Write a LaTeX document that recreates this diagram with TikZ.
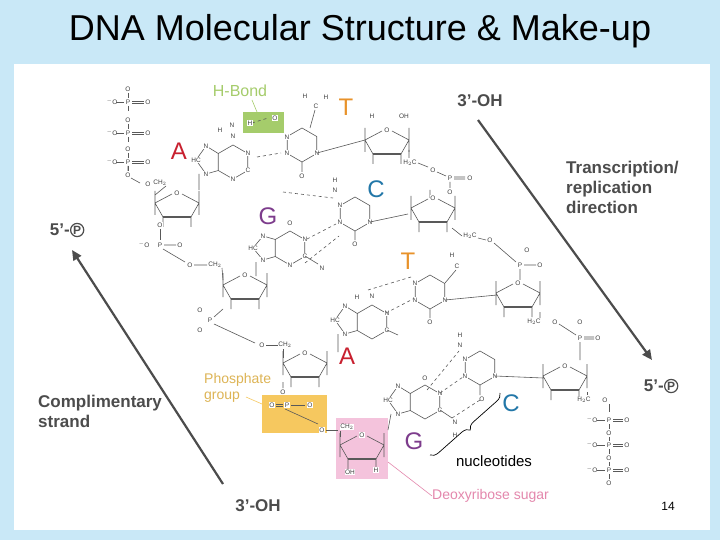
\documentclass[tikz,border=0pt]{standalone}
\usepackage{fontspec}
\setmainfont{Liberation Sans}
\usetikzlibrary{decorations.pathreplacing,arrows.meta}
\definecolor{bgblue}{HTML}{C9E8F7}
\definecolor{hgreen}{HTML}{A5CC6B}
\definecolor{porange}{HTML}{F6C85F}
\definecolor{spink}{HTML}{F4C3DC}
\definecolor{lred}{HTML}{C8202F}
\definecolor{lpurple}{HTML}{7D3C8C}
\definecolor{lblue}{HTML}{2277A8}
\definecolor{lorange}{HTML}{E8922A}
\tikzset{
 chem/.style={draw=black!65,line width=0.6pt},
 hb/.style={draw=black!65,dashed,line width=0.6pt},
 atm/.style={font=\fontsize{6.5}{6.5}\selectfont,text=black!75,inner sep=0.5pt,fill=white},
 base/.style={font=\fontsize{24}{24}\selectfont,inner sep=0pt},
 bold/.style={font=\fontsize{17}{20}\selectfont\bfseries,text=black!70,align=left,inner sep=0pt},
 pcirc/.style={circle,draw=black!70,line width=1.2pt,inner sep=0.6pt,font=\fontsize{12}{12}\selectfont\bfseries,text=black!70},
 bigarrow/.style={draw=black!70,line width=2.2pt,-{Triangle[length=10pt,width=9pt]}},
}
\newcommand\sugar[2]{\begin{scope}[shift={(#1,#2)}]
 \draw[chem] (-22,-2)--(-5,-11) (5,-11)--(22,-2)--(14,12) (-14,12)--(-22,-2)
 (-22,-14)--(-22,10) (22,-14)--(22,10) (14,12)--(14,22) (-14,12)--(-14,22);
 \draw[draw=black!65,line width=1.4pt] (-14,12)--(14,12);
 \node[atm] at (0,-12) {O};
\end{scope}}
\newcommand\hexa[2]{\draw[chem] (#1,#2)++(90:17)--++(-30:17)--++(-90:17)--++(-150:17)--++(150:17)--++(90:17)--cycle;}
\begin{document}
\begin{tikzpicture}[x=1pt,y=-1pt]
\fill[bgblue] (0,0) rectangle (720,540);
\fill[white] (14,64) rectangle (710,530);
\node[font=\fontsize{36}{36}\selectfont] (title) at (360,31) {DNA Molecular Structure \& Make-up};
% highlight boxes
\fill[hgreen] (243,112) rectangle (284,133);
\fill[porange] (262,395) rectangle (327,433);
\fill[spink] (336,418) rectangle (388,479);
% left triphosphate
\foreach \y in {102,133,162}{
 \node[atm] at (128,\y) {P};
 \node[atm] at (112,\y) {$^{-}$O};
 \node[atm] at (148,\y) {O};
 \draw[chem] (116,\y)--(124,\y) (132,\y-1)--(144,\y-1) (132,\y+1)--(144,\y+1);
 \node[atm] at (128,\y-13) {O};
 \draw[chem] (128,\y-9)--(128,\y-4) (128,\y+4)--(128,\y+9);}
\node[atm] at (128,175) {O};
\draw[chem] (128,166)--(128,171) (131,178)--(140,183);
\node[atm] at (148,184) {O};\node[atm] at (160,183) {CH$_2$};
\draw[chem] (166,186)--(155,195);
% sugars left strand
\sugar{177}{205}
\sugar{245}{287}
\sugar{305}{365}
\sugar{362}{447}
\node[atm] at (160,225) {O};
\draw[chem] (160,229)--(160,240);
\node[atm] at (160,245) {P};\node[atm] at (144,245) {$^{-}$O};\node[atm] at (180,245) {O};
\draw[chem] (164,245)--(176,245) (163,249)--(185,262);
\node[atm] at (190,265) {O};\node[atm] at (215,265) {CH$_2$};
\draw[chem] (194,265)--(207,265) (222,268)--(223,280);
\node[atm] at (210,320) {P};\node[atm] at (200,310) {O};\node[atm] at (200,330) {O};
\draw[chem] (223,309)--(214,317) (214,324)--(255,343);
\node[atm] at (262,345) {O};\node[atm] at (285,345) {CH$_2$};
\draw[chem] (266,345)--(278,345) (283,349)--(283,358);
\node[atm] at (283,392) {O};
\draw[chem] (283,388)--(283,382) (285,409)--(318,424);
\node[atm] at (272,405) {O};\node[atm] at (287,405) {P};\node[atm] at (310,405) {O};
\draw[chem] (276,404)--(283,404) (276,406)--(283,406) (291,405)--(305,405);
\node[atm] at (322,430) {O};\node[atm] at (347,427) {CH$_2$};
\draw[chem] (326,430)--(338,430) (340,431)--(340,437);
\node[atm] at (350,472) {OH};\node[atm] at (376,470) {H};
% bases left
\hexa{233}{162}\hexa{290}{248}\hexa{372}{322}\hexa{425}{402}
\draw[chem] (218.3,153.5)--(206,146)--(196,160)--(206,174)--(218.3,170.5);
\draw[chem] (275.3,239.5)--(263,236)--(253,248)--(263,260)--(275.3,256.5);
\draw[chem] (357.3,313.5)--(345,306)--(335,320)--(345,334)--(357.3,330.5);
\draw[chem] (410.3,393.5)--(398,386)--(388,400)--(398,414)--(410.3,410.5);
\draw[chem] (199,174)--(199,190) (256,262)--(256,276) (338,334)--(338,352) (391,414)--(388,430);
\foreach \p/\l in {{206,146}/N,{196,160}/HC,{206,174}/N,{248,153}/N,{248,170}/C,{233,179}/N,{233,136}/N,{263,236}/N,{253,248}/HC,{263,260}/N,{290,265}/N,{305,256}/C,{305,239}/N,{290,223}/O,{345,306}/N,{335,320}/HC,{345,334}/N,{387,313}/N,{387,330}/C,{372,296}/N,{398,386}/N,{388,400}/HC,{398,414}/N,{440,393}/N,{440,410}/C,{425,378}/O}{\node[atm] at (\p) {\l};}
\draw[chem] (305,256)--(318,264) (387,330)--(398,335) (440,410)--(452,418);
\node[atm] at (220,130) {H}; \node[atm] at (322,268) {N};\node[atm] at (357,297) {H};
\node[atm] at (455,422) {N};\node[atm] at (455,435) {H};
% bases right
\hexa{302}{145}\hexa{355}{214}\hexa{430}{292}\hexa{480}{368}
\draw[chem] (310,128)--(315,110) (445,283)--(456,270) (302,162)--(302,172) (355,231)--(355,240) (430,309)--(430,318) (480,385)--(480,395);
\node[atm] at (316,106) {C};\node[atm] at (305,96) {H};\node[atm] at (326,97) {H};
\node[atm] at (457,266) {C};\node[atm] at (452,255) {H};
\node[atm] at (302,176) {O};\node[atm] at (355,244) {O};\node[atm] at (430,322) {O};\node[atm] at (482,399) {O};
\foreach \p in {{287,153},{287,137},{317,153},{340,222},{340,205},{370,222},{415,300},{415,283},{445,300},{465,376},{465,359},{495,376}}{\node[atm] at (\p) {N};}
\draw[chem] (317,153)--(365,140) (370,222)--(408,214) (445,300)--(497,295) (495,376)--(543,378);
\node[atm] at (335,190) {N};\node[atm] at (335,180) {H};
\node[atm] at (460,345) {N};\node[atm] at (460,335) {H};
% H-bonds
\draw[hb] (252,123)--(268,118) (257,157)--(281,153) (283,192)--(333,198) (307,239)--(336,224) (305,263)--(339,236)
 (368,290)--(411,277) (386,313)--(413,299) (427,390)--(459,351) (440,393)--(463,377) (452,418)--(480,400);
\node[atm] at (275,118) {O};\node[atm] at (250,123) {H};\node[atm] at (232,125) {N};
% right strand phosphates
\node[atm] at (410,163) {H$_2$C};\node[atm] at (433,170) {O};\node[atm] at (450,178) {P};\node[atm] at (470,178) {O};\node[atm] at (450,192) {O};
\draw[chem] (409,150)--(409,158) (418,163)--(428,167) (437,172)--(446,176) (454,177)--(465,177) (454,179)--(465,179) (450,182)--(450,188) (430,190)--(430,198);
\node[atm] at (470,236) {H$_2$C};\node[atm] at (490,240) {O};\node[atm] at (527,250) {O};\node[atm] at (520,265) {P};\node[atm] at (540,265) {O};
\draw[chem] (452,228)--(462,236) (478,238)--(486,240) (494,243)--(516,262) (520,269)--(520,280) (524,265)--(536,265);
\node[atm] at (534,322) {H$_2$C};\node[atm] at (555,322) {O};\node[atm] at (580,338) {P};\node[atm] at (580,322) {O};\node[atm] at (598,338) {O};
\draw[chem] (540,312)--(540,318) (559,324)--(576,335) (584,337)--(594,337) (584,339)--(594,339) (580,342)--(580,360);
\sugar{433}{210}
\sugar{518}{295}
\sugar{565}{378}
\sugar{387}{142}
\node[atm] at (404,116) {OH};\node[atm] at (372,116) {H};
% right triphosphate
\node[atm] at (584,400) {H$_2$C};\node[atm] at (605,400) {O};
\draw[chem] (587,392)--(587,395) (609,404)--(609,412);
\foreach \y in {420,445,470}{
 \node[atm] at (609,\y) {P};\node[atm] at (592,\y) {$^{-}$O};\node[atm] at (627,\y) {O};\node[atm] at (609,\y+13) {O};
 \draw[chem] (597,\y)--(605,\y) (613,\y-1)--(623,\y-1) (613,\y+1)--(623,\y+1) (609,\y+4)--(609,\y+9);}
\draw[chem] (609,437)--(609,441) (609,462)--(609,466);
% base letters
\node[base,text=lred] (la) at (179,151) {A};
\node[base,text=lorange] (lt) at (346,107) {T};
\node[base,text=lblue] (lc) at (376,189) {C};
\node[base,text=lpurple] (lg) at (268,216) {G};
\node[base,text=lorange] (lt2) at (408,261) {T};
\node[base,text=lred] (la2) at (347,356) {A};
\node[base,text=lblue] (lc2) at (511,403) {C};
\node[base,text=lpurple] (lg2) at (414,441) {G};
% labels
\node[font=\fontsize{16}{16}\selectfont,text=hgreen,inner sep=0pt] (hbond) at (240,91) {H-Bond};
\draw[hgreen,line width=0.6pt] (252,100)--(257,112);
\node[font=\fontsize{14}{16}\selectfont,text=porange!90!black,align=left,inner sep=0pt,anchor=west] (pg) at (204,388) {Phosphate\\group};
\coordinate (pgt) at (262,404);
\draw[porange,line width=0.6pt] (246,397)--(pgt);
\node[font=\fontsize{14}{14}\selectfont,text=spink!70!purple,inner sep=0pt,anchor=west] (ds) at (432,496) {Deoxyribose sugar};
\coordinate (dst) at (388,462);
\draw[spink!70!purple,line width=0.6pt] (ds.west)--(dst);
\node[font=\fontsize{15}{15}\selectfont,inner sep=0pt] (nuc) at (494,461) {nucleotides};
\draw[decorate,decoration={brace,amplitude=8pt,mirror},line width=0.7pt] (430,455)--(500,393);
\node[bold] (oh1) at (480,101) {3’-OH};
\node[bold] (oh2) at (258,506) {3’-OH};
\node[bold,anchor=east] (p1) at (70,230) {5’-};
\node[pcirc,anchor=west] (p1c) at (p1.east) {P};
\node[bold,anchor=east] (p2) at (664,386) {5’-};
\node[pcirc,anchor=west] (p2c) at (p2.east) {P};
\node[bold,anchor=west] (tr) at (566,187) {Transcription/\\replication\\direction};
\node[bold,anchor=west] (cs) at (38,411) {Complimentary\\strand};
\coordinate (a1s) at (478,120);\coordinate (a1e) at (652,360);
\coordinate (a2s) at (223,484);\coordinate (a2e) at (72,250);
\draw[bigarrow] (a1s)--(a1e);
\draw[bigarrow] (a2s)--(a2e);
\node[font=\fontsize{12}{12}\selectfont] (pn) at (668,506) {14};
\end{tikzpicture}
\end{document}
